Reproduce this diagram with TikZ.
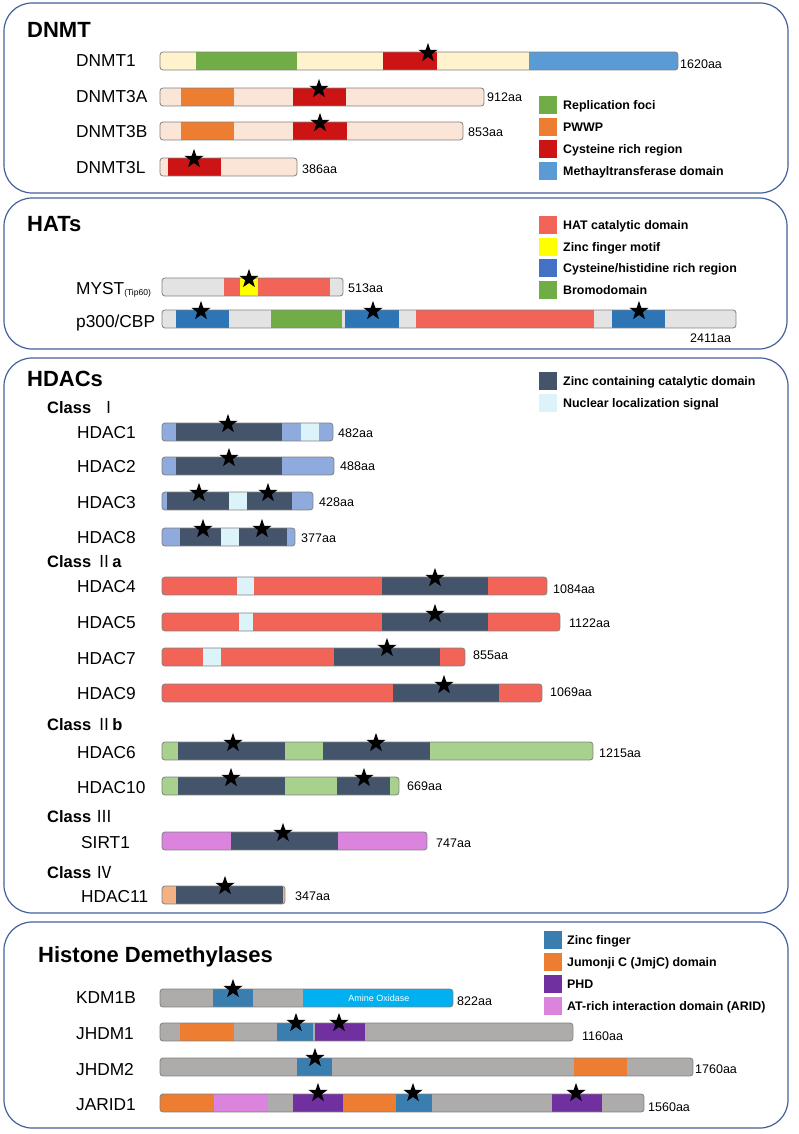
\documentclass[tikz,border=0pt]{standalone}
\usepackage{fontspec}
\setmainfont{Liberation Sans}
\newfontfamily\cjkf{Noto Sans CJK SC}
\usetikzlibrary{shapes.geometric}
\definecolor{panelc}{HTML}{44609A}
\definecolor{cream}{HTML}{FFF2CC}
\definecolor{dgreen}{HTML}{70AD47}
\definecolor{dred}{HTML}{CC1414}
\definecolor{mblue}{HTML}{5B9BD5}
\definecolor{peach}{HTML}{FBE5D6}
\definecolor{orng}{HTML}{ED7D31}
\definecolor{lgrey}{HTML}{E3E3E3}
\definecolor{salmon}{HTML}{F26458}
\definecolor{yel}{HTML}{FFFF00}
\definecolor{cbar}{HTML}{2E75B6}
\definecolor{cleg}{HTML}{4472C4}
\definecolor{slate}{HTML}{44546A}
\definecolor{nls}{HTML}{DDF3FA}
\definecolor{lblue}{HTML}{8FAADC}
\definecolor{lgreen}{HTML}{A9D18E}
\definecolor{orchid}{HTML}{DA84DE}
\definecolor{apric}{HTML}{F4B183}
\definecolor{mgrey}{HTML}{AEABAB}
\definecolor{zblue}{HTML}{3A7EB0}
\definecolor{purp}{HTML}{7030A0}
\definecolor{cyantwo}{HTML}{00B0F0}
\definecolor{framec}{HTML}{808080}
\tikzset{
  panel/.style={draw=panelc, line width=1.2pt, rounded corners=28pt},
  barframe/.style={draw=framec, line width=0.8pt, rounded corners=3pt},
  pstar/.style={star, star points=5, star point ratio=2.5, minimum size=20pt, inner sep=0pt, fill=black},
  lab/.style={anchor=base west, inner sep=0pt, font=\fontsize{17.3}{20}\selectfont},
  aa/.style={anchor=base west, inner sep=0pt, font=\fontsize{12.5}{14}\selectfont},
  ttl/.style={anchor=base west, inner sep=0pt, font=\fontsize{22}{26}\selectfont\bfseries},
  cls/.style={anchor=base west, inner sep=0pt, font=\fontsize{16.5}{19}\selectfont\bfseries},
  legsq/.style={minimum width=18pt, minimum height=18pt, inner sep=0pt},
  legtxt/.style={anchor=base west, inner sep=0pt, font=\fontsize{12.4}{14}\selectfont\bfseries},
}
\newcommand\pbar[4]{%
  \begin{scope}
    \clip[rounded corners=3pt] (#1,#3) rectangle (#2,#3+18);
    \foreach \sa/\sb/\sc in {#4}{\fill[fill=\sc] (\sa,#3) rectangle (\sb,#3+18);}
  \end{scope}
  \draw[barframe] (#1,#3) rectangle (#2,#3+18);
}
\newcommand\legrow[6]{%
  \node[legsq, fill=#3] (#5sq) at (#1+9,#2) {};
  \node[legtxt] (#5) at (#1+#6,#2+4.5) {#4};
}
\begin{document}
\begin{tikzpicture}[x=1pt,y=-1pt]
\useasboundingbox (0,0) rectangle (799,1134);
\fill[white] (0,0) rectangle (799,1134);
% panels
\draw[panel] (4,3) rectangle (788,193);
\draw[panel] (4,198) rectangle (787,349);
\draw[panel] (4,358) rectangle (788,913);
\draw[panel] (4,922) rectangle (788,1128);

% ---------- DNMT ----------
\node[ttl] (tdnmt) at (27,38) {DNMT};
\pbar{160}{678}{52}{160/196/cream,196/297/dgreen,297/383/cream,383/437/dred,437/529/cream,529/678/mblue}
\pbar{160}{484}{88}{160/181/peach,181/234/orng,234/293/peach,293/346/dred,346/484/peach}
\pbar{160}{463}{122}{160/181/peach,181/234/orng,234/293/peach,293/347/dred,347/463/peach}
\pbar{160}{297}{158}{160/168/peach,168/221/dred,221/297/peach}
\node[pstar] (s1) at (428,53) {};
\node[pstar] (s2) at (319,89) {};
\node[pstar] (s3) at (320,123) {};
\node[pstar] (s4) at (194,159) {};
\node[lab] (ldnmt1) at (76,66.7) {DNMT1};
\node[lab] (ldnmt3a) at (76,103) {DNMT3A};
\node[lab] (ldnmt3b) at (76,138) {DNMT3B};
\node[lab] (ldnmt3l) at (76,174) {DNMT3L};
\node[aa] (a1) at (680,69) {1620aa};
\node[aa] (a2) at (487,102) {912aa};
\node[aa] (a3) at (468,137) {853aa};
\node[aa] (a4) at (302,174) {386aa};
\legrow{539}{105}{dgreen}{Replication foci}{lg1}{24}
\legrow{539}{127}{orng}{PWWP}{lg2}{24}
\legrow{539}{149}{dred}{Cysteine rich region}{lg3}{24}
\legrow{539}{171}{mblue}{Methayltransferase domain}{lg4}{24}

% ---------- HATs ----------
\node[ttl] (thats) at (27,231) {HATs};
\pbar{162}{343}{278}{162/224/lgrey,224/240/salmon,240/258/yel,258/330/salmon,330/343/lgrey}
\pbar{162}{736}{310}{162/176/lgrey,176/229/cbar,229/271/lgrey,271/342/dgreen,342/345/lgrey,345/399/cbar,399/416/lgrey,416/594/salmon,594/612/lgrey,612/665/cbar,665/736/lgrey}
\node[pstar] (s5) at (249,279) {};
\node[pstar] (s6) at (201,311) {};
\node[pstar] (s7) at (373,311) {};
\node[pstar] (s8) at (639,311) {};
\node[lab] (lmyst) at (76,294) {MYST\raisebox{-1pt}{\fontsize{8.5}{10}\selectfont(Tip60)}};
\node[lab] (lp300) at (76,327) {p300/CBP};
\node[aa] (a5) at (348,292) {513aa};
\node[aa] (a6) at (690,342) {2411aa};
\legrow{539}{224.5}{salmon}{HAT catalytic domain}{lh1}{24}
\legrow{539}{246.5}{yel}{Zinc finger motif}{lh2}{24}
\legrow{539}{267.5}{cleg}{Cysteine/histidine rich region}{lh3}{24}
\legrow{539}{289.5}{dgreen}{Bromodomain}{lh4}{24}

% ---------- HDACs ----------
\node[ttl] (thdac) at (27,386) {HDACs};
\legrow{539}{380.5}{slate}{Zinc containing catalytic domain}{lz1}{24}
\legrow{539}{403}{nls}{Nuclear localization signal}{lz2}{24}
\node[cls] (c1) at (47,413) {Class \ {\cjkf\mdseries Ⅰ}};
\node[cls] (c2) at (47,567) {Class {\cjkf\mdseries Ⅱ}a};
\node[cls] (c3) at (47,730) {Class {\cjkf\mdseries Ⅱ}b};
\node[cls] (c4) at (47,822) {Class {\cjkf\mdseries Ⅲ}};
\node[cls] (c5) at (47,878) {Class {\cjkf\mdseries Ⅳ}};

\pbar{162}{333}{423}{162/176/lblue,176/282/slate,282/301/lblue,301/319/nls,319/333/lblue}
\pbar{162}{334}{457}{162/176/lblue,176/282/slate,282/334/lblue}
\pbar{162}{313}{492}{162/167/lblue,167/229/slate,229/247/nls,247/292/slate,292/313/lblue}
\pbar{162}{295}{528}{162/180/lblue,180/221/slate,221/239/nls,239/287/slate,287/295/lblue}
\pbar{162}{547}{577}{162/237/salmon,237/254/nls,254/382/salmon,382/488/slate,488/547/salmon}
\pbar{162}{560}{613}{162/239/salmon,239/253/nls,253/382/salmon,382/488/slate,488/560/salmon}
\pbar{162}{465}{648}{162/203/salmon,203/221/nls,221/334/salmon,334/440/slate,440/465/salmon}
\pbar{162}{542}{684}{162/393/salmon,393/499/slate,499/542/salmon}
\pbar{162}{593}{742}{162/178/lgreen,178/285/slate,285/323/lgreen,323/430/slate,430/593/lgreen}
\pbar{162}{399}{777}{162/178/lgreen,178/285/slate,285/337/lgreen,337/390/slate,390/399/lgreen}
\pbar{162}{427}{832}{162/231/orchid,231/338/slate,338/427/orchid}
\pbar{162}{285}{886}{162/176/apric,176/283/slate,283/285/apric}

\node[pstar] (s9) at (228,424) {};
\node[pstar] (s10) at (229,458) {};
\node[pstar] (s11) at (199,493) {};
\node[pstar] (s12) at (268,493) {};
\node[pstar] (s13) at (203,529) {};
\node[pstar] (s14) at (262,529) {};
\node[pstar] (s15) at (435,578) {};
\node[pstar] (s16) at (435,614) {};
\node[pstar] (s17) at (387,648) {};
\node[pstar] (s18) at (444,685) {};
\node[pstar] (s19) at (233,743) {};
\node[pstar] (s20) at (376,743) {};
\node[pstar] (s21) at (231,778) {};
\node[pstar] (s22) at (364,778) {};
\node[pstar] (s23) at (283,833) {};
\node[pstar] (s24) at (225,886) {};

\node[lab] (lh1) at (77,438) {HDAC1};
\node[lab] (lh2) at (77,472) {HDAC2};
\node[lab] (lh3) at (77,508) {HDAC3};
\node[lab] (lh8) at (77,543) {HDAC8};
\node[lab] (lh4) at (77,592) {HDAC4};
\node[lab] (lh5) at (77,628) {HDAC5};
\node[lab] (lh7) at (77,664) {HDAC7};
\node[lab] (lh9) at (77,699) {HDAC9};
\node[lab] (lh6) at (77,758) {HDAC6};
\node[lab] (lh10) at (77,793) {HDAC10};
\node[lab] (lsirt) at (81,848) {SIRT1};
\node[lab] (lh11) at (81,902) {HDAC11};

\node[aa] (a7) at (338,437) {482aa};
\node[aa] (a8) at (340,470) {488aa};
\node[aa] (a9) at (319,506) {428aa};
\node[aa] (a10) at (301,542) {377aa};
\node[aa] (a11) at (553,593) {1084aa};
\node[aa] (a12) at (569,627) {1122aa};
\node[aa] (a13) at (473,659) {855aa};
\node[aa] (a14) at (550,696) {1069aa};
\node[aa] (a15) at (599,757) {1215aa};
\node[aa] (a16) at (407,790) {669aa};
\node[aa] (a17) at (436,847) {747aa};
\node[aa] (a18) at (295,900) {347aa};

% ---------- Histone Demethylases ----------
\node[ttl] (thd) at (38,962) {Histone Demethylases};
\legrow{544}{940}{zblue}{Zinc finger}{ld1}{23}
\legrow{544}{962}{orng}{Jumonji C (JmjC) domain}{ld2}{23}
\legrow{544}{984}{purp}{PHD}{ld3}{23}
\legrow{544}{1006}{orchid}{AT-rich interaction domain (ARID)}{ld4}{23}

\pbar{160}{453}{989}{160/213/mgrey,213/253/zblue,253/303/mgrey,303/453/cyantwo}
\pbar{160}{573}{1023}{160/180/mgrey,180/234/orng,234/277/mgrey,277/313/zblue,313/315/mgrey,315/365/purp,365/573/mgrey}
\pbar{160}{693}{1058}{160/297/mgrey,297/332/zblue,332/574/mgrey,574/627/orng,627/693/mgrey}
\pbar{160}{644}{1094}{160/214/orng,214/268/orchid,268/293/mgrey,293/343/purp,343/396/orng,396/432/zblue,432/552/mgrey,552/602/purp,602/644/mgrey}
\node[font=\fontsize{9}{10}\selectfont, text=white, inner sep=0pt] (amox) at (379,998) {Amine Oxidase};

\node[pstar] (s25) at (233,989) {};
\node[pstar] (s26) at (296,1023) {};
\node[pstar] (s27) at (339,1023) {};
\node[pstar] (s28) at (315,1058) {};
\node[pstar] (s29) at (318,1093) {};
\node[pstar] (s30) at (413,1093) {};
\node[pstar] (s31) at (576,1093) {};

\node[lab] (lk1) at (76,1003) {KDM1B};
\node[lab] (lj1) at (76,1039) {JHDM1};
\node[lab] (lj2) at (76,1075) {JHDM2};
\node[lab] (lja) at (76,1110) {JARID1};
\node[aa] (a19) at (457,1005) {822aa};
\node[aa] (a20) at (582,1040) {1160aa};
\node[aa] (a21) at (695,1073) {1760aa};
\node[aa] (a22) at (648,1111) {1560aa};
\end{tikzpicture}
\end{document}
